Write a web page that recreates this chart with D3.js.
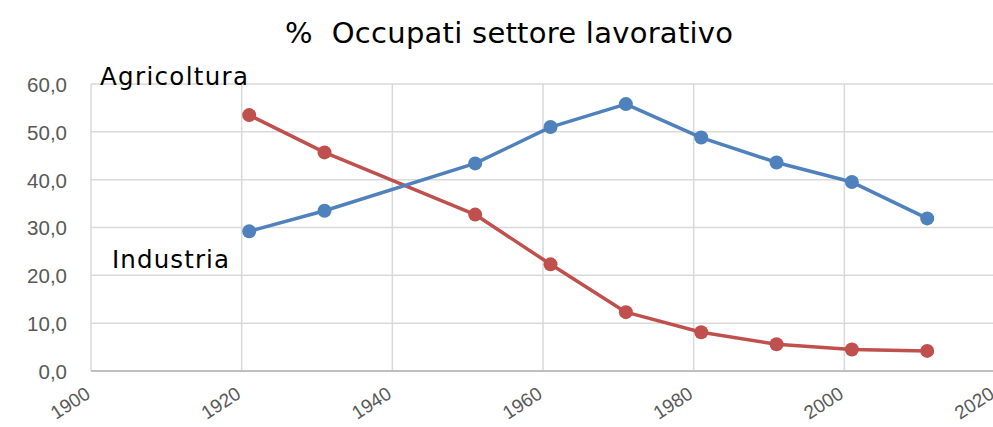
<!DOCTYPE html>
<html lang="it">
<head>
  <meta charset="UTF-8" />
  <title>% Occupati settore lavorativo</title>
  <script src="https://d3js.org/d3.v7.min.js"></script>
  <style>
    body { margin: 0; background: #fff; }
    svg { display: block; font-family: "DejaVu Sans", sans-serif; }
    .grid line { stroke: #d9d9d9; stroke-width: 1.5px; }
    .tick text { fill: #595959; }
  </style>
</head>
<body>
  <svg width="993" height="427"></svg>
  <script>
    const years = [1921, 1931, 1951, 1961, 1971, 1981, 1991, 2001, 2011];
    const agricoltura = [53.5, 45.7, 32.7, 22.3, 12.3, 8.1, 5.6, 4.5, 4.2];
    const industria = [29.2, 33.5, 43.4, 51.0, 55.8, 48.8, 43.6, 39.5, 31.9];
    const xTicks = [1900, 1920, 1940, 1960, 1980, 2000, 2020];
    const yTicks = [0, 10, 20, 30, 40, 50, 60];

    const svg = d3.select("svg");
    const margin = {left: 91, right: -2, top: 84, bottom: 56};
    const width = 993, height = 427;

    const x = d3.scaleLinear().domain([1900, 2020]).range([margin.left, width - margin.right]);
    const y = d3.scaleLinear().domain([0, 60]).range([height - margin.bottom, margin.top]);

    // gridlines
    const grid = svg.append("g").attr("class", "grid");
    grid.selectAll("line.h")
      .data(yTicks)
      .enter()
      .append("line")
      .attr("x1", x(1900)).attr("x2", x(2020))
      .attr("y1", d => y(d)).attr("y2", d => y(d));
    grid.selectAll("line.v")
      .data(xTicks)
      .enter()
      .append("line")
      .attr("x1", d => x(d)).attr("x2", d => x(d))
      .attr("y1", y(0)).attr("y2", y(60));

    // bottom axis line
    svg.append("line")
      .attr("x1", x(1900)).attr("x2", x(2020))
      .attr("y1", y(0)).attr("y2", y(0))
      .attr("stroke", "#bfbfbf").attr("stroke-width", 2);

    // y labels
    const fmt = v => v.toFixed(1).replace(".", ",");
    svg.append("g")
      .attr("transform", `translate(${margin.left - 24},0)`)
      .call(d3.axisLeft(y).tickValues(yTicks).tickFormat(fmt).tickSize(0))
      .call(g => g.select(".domain").remove())
      .call(g => g.selectAll("text").attr("font-size", 20.5).attr("dy", "0.36em").attr("x", 0));

    // x labels rotated
    svg.append("g")
      .attr("transform", `translate(0,${y(0)})`)
      .call(d3.axisBottom(x).tickValues(xTicks).tickFormat(d3.format("d")).tickSize(0))
      .call(g => g.select(".domain").remove())
      .call(g => g.selectAll("text")
        .attr("font-size", 19)
        .attr("text-anchor", "end")
        .attr("y", 0).attr("dy", 0)
        .attr("transform", "translate(0,26) rotate(-33)"));

    const series = [
      {values: agricoltura, color: "#c0504d"},
      {values: industria, color: "#4f81bd"}
    ];
    const line = d3.line().x((d, i) => x(years[i])).y(d => y(d));

    series.forEach(s => {
      svg.append("path")
        .datum(s.values)
        .attr("fill", "none")
        .attr("stroke", s.color)
        .attr("stroke-width", 3.5)
        .attr("stroke-linejoin", "round")
        .attr("d", line);
      svg.selectAll(null)
        .data(s.values)
        .enter()
        .append("circle")
        .attr("cx", (d, i) => x(years[i]))
        .attr("cy", d => y(d))
        .attr("r", 7)
        .attr("fill", s.color);
    });

    // title
    svg.append("text")
      .attr("x", 285).attr("y", 43)
      .attr("font-size", 29)
      .attr("fill", "#000")
      .attr("xml:space", "preserve")
      .attr("textLength", 448)
      .attr("lengthAdjust", "spacing")
      .text("%  Occupati settore lavorativo");

    // series labels
    svg.append("text")
      .attr("x", 100).attr("y", 85)
      .attr("font-size", 24.5).attr("fill", "#000")
      .attr("textLength", 148).attr("lengthAdjust", "spacing")
      .text("Agricoltura");
    svg.append("text")
      .attr("x", 112).attr("y", 268)
      .attr("font-size", 24.5).attr("fill", "#000")
      .attr("textLength", 117).attr("lengthAdjust", "spacing")
      .text("Industria");
  </script>
</body>
</html>
